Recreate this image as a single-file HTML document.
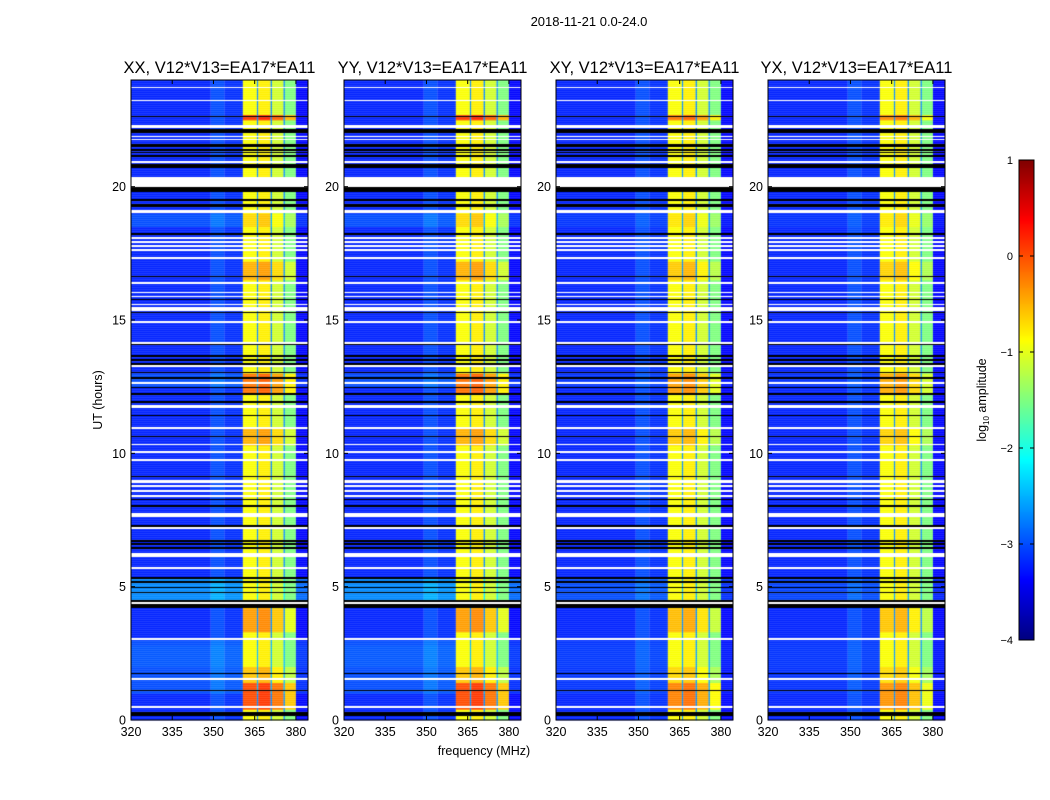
<!DOCTYPE html>
<html><head><meta charset="utf-8">
<style>
body{margin:0;background:#fff;width:1050px;height:800px;overflow:hidden;font-family:"Liberation Sans",sans-serif;}
#wrap{position:relative;width:1050px;height:800px;}
canvas{position:absolute;left:0;top:0;}
</style></head>
<body>
<div id="wrap">
<canvas id="cv" width="1050" height="800"></canvas>
<svg id="sv" width="1050" height="800" style="position:absolute;left:0;top:0"></svg>
</div>
<script>
// ---- data ----
const panelTitles = ["XX, V12*V13=EA17*EA11","YY, V12*V13=EA17*EA11","XY, V12*V13=EA17*EA11","YX, V12*V13=EA17*EA11"];
const yTicks = [0,5,10,15,20];
const xTicks = [320,335,350,365,380];
const cbTicks = [1,0,-1,-2,-3,-4];
// frequency segments [start MHz, end MHz, log10 amplitude]
const freqSegStart = [320,349,354,360.7,365.8,366.3,370.8,371.3,375.5,376,380];
const freqSegEnd   = [349,354,360.7,365.8,366.3,370.8,371.3,375.5,376,380,384.4];
const freqSegLevel = [-3.2,-3.0,-3.15,-0.9,-2.7,-0.8,-2.7,-1.1,-2.7,-1.5,-3.35];
const bandStart = 360.7, bandEnd = 380;
// flagged rows (hours)
const whiteStart = [0.45,1.5,3.0,4.35,5.65,6.1,7.15,7.6,8.35,8.55,8.75,8.9,9.7,10.0,10.3,10.9,11.7,12.6,13.25,14.1,14.9,15.35,15.55,15.85,16.0,16.35,17.3,17.6,17.75,17.9,18.05,19.03,20.0,20.9,21.75,21.85,22.2,23.2,23.7];
const whiteEnd   = [0.52,1.57,3.08,4.43,5.72,6.25,7.22,7.75,8.42,8.62,8.82,9.0,9.77,10.07,10.36,10.97,11.8,12.66,13.31,14.16,14.96,15.5,15.61,15.91,16.06,16.41,17.36,17.66,17.81,17.96,18.11,19.12,20.35,20.96,21.8,21.9,22.32,23.25,23.75];
const blackStart = [0.15,1.08,1.72,4.2,4.75,4.95,5.15,5.3,6.4,6.55,6.68,7.15,7.25,8.0,8.25,9.1,10.6,11.4,11.9,12.2,12.45,12.8,13.0,13.3,13.45,13.6,14.05,15.25,15.75,16.6,18.2,19.25,19.45,19.8,20.7,21.1,21.25,21.35,21.5,22.0,22.6];
const blackEnd   = [0.3,1.13,1.77,4.5,4.8,5.0,5.2,5.35,6.48,6.62,6.75,7.21,7.3,8.05,8.3,9.15,10.65,11.45,11.95,12.25,12.5,12.85,13.05,13.4,13.55,13.7,14.1,15.3,15.8,16.65,18.25,19.35,19.55,19.98,20.85,21.18,21.3,21.42,21.6,22.15,22.65];
// band boost intervals
const hotStart = [0.4,1.4,3.3,10.3,12.2,16.5,18.5,22.5,12.9];
const hotEnd   = [1.4,2.0,4.2,11.0,13.0,17.2,19.0,22.7,13.0];
const hotBoost = [0.9,0.3,0.5,0.4,0.7,0.4,0.2,1.0,0.3];
const panelHotScale = [1,1,0.7,0.6];
// background boost intervals (off-band)
const bgStart = [4.5,1.0,2.0,18.5,12.5];
const bgEnd   = [5.3,3.0,2.8,19.0,13.0];
const bgBoost = [0.5,0.2,0.25,0.2,0.2];
const panelBgScale = [1,1,0.4,0.3];

// ---- axes functions ----
const panelLeft = [131,344,556,768], panelW = 177, plotTop = 80, plotBottom = 720;
const fMin = 320, fMax = 384.4, hMax = 24;
function xs(p,f){return panelLeft[p] + (f-fMin)/(fMax-fMin)*panelW;}
function ys(h){return plotBottom - h/hMax*(plotBottom-plotTop);}
function jet(v){
  let t=(v+4)/5; t=Math.max(0,Math.min(1,t));
  const c=x=>Math.round(255*Math.max(0,Math.min(1,x)));
  return `rgb(${c(1.5-Math.abs(4*t-3))},${c(1.5-Math.abs(4*t-2))},${c(1.5-Math.abs(4*t-1))})`;
}
function inAny(h,s,e){for(let i=0;i<s.length;i++){if(h>=s[i]&&h<e[i])return i;}return -1;}

const ctx=document.getElementById('cv').getContext('2d');
const NS="http://www.w3.org/2000/svg", sv=document.getElementById('sv');
function el(tag,attrs,parent){const e=document.createElementNS(NS,tag);for(const k in attrs)e.setAttribute(k,attrs[k]);(parent||sv).appendChild(e);return e;}

const dh=0.025;
for(let p=0;p<4;p++){
  // normal rows first
  for(let r=0;r<hMax/dh;r++){
    const h0=r*dh, hm=h0+dh/2;
    const y1=ys(h0+dh), y0=ys(h0);
    let hb=0; for(let i=0;i<hotStart.length;i++) if(hm>=hotStart[i]&&hm<hotEnd[i]) hb=Math.max(hb,hotBoost[i]*panelHotScale[p]);
    let bb=0; for(let i=0;i<bgStart.length;i++) if(hm>=bgStart[i]&&hm<bgEnd[i]) bb=Math.max(bb,bgBoost[i]*panelBgScale[p]);
    for(let s=0;s<freqSegStart.length;s++){
      const inBand = freqSegStart[s]>=bandStart && freqSegEnd[s]<=bandEnd && freqSegLevel[s]>-2;
      const v = freqSegLevel[s] + (inBand?hb:bb);
      ctx.fillStyle=jet(v);
      const xa=xs(p,freqSegStart[s]), xb=xs(p,freqSegEnd[s]);
      ctx.fillRect(xa,y1,xb-xa,y0-y1+0.3);
    }
  }
  // flagged rows, pixel-snapped
  for(let i=0;i<blackStart.length;i++){
    const ya=Math.round(ys(blackEnd[i])), yb=Math.max(ya+1,Math.round(ys(blackStart[i])));
    ctx.fillStyle='#000';ctx.fillRect(panelLeft[p],ya,panelW,yb-ya);
  }
  for(let i=0;i<whiteStart.length;i++){
    const ya=Math.round(ys(whiteEnd[i])), yb=Math.max(ya+1,Math.round(ys(whiteStart[i])));
    ctx.fillStyle='#fff';ctx.fillRect(panelLeft[p],ya,panelW,yb-ya);
  }
}
// colorbar
const cbX=1019,cbW=15,cbTop=160,cbBot=640;
for(let y=cbTop;y<cbBot;y++){const v=1-(y-cbTop+0.5)/(cbBot-cbTop)*5;ctx.fillStyle=jet(v);ctx.fillRect(cbX,y,cbW,1);}

// axes overlay
el('text',{x:589,y:26,'font-size':13,'text-anchor':'middle',}).textContent='2018-11-21 0.0-24.0';
for(let p=0;p<4;p++){
  const g=el('g',{});
  
  
  const L=panelLeft[p];
  el('rect',{x:L,y:plotTop,width:panelW,height:plotBottom-plotTop,fill:'none',stroke:'#000','stroke-width':1,},g);
  el('text',{x:L+panelW/2,y:73,'font-size':16.5,'text-anchor':'middle',},g).textContent=panelTitles[p];
  yTicks.forEach(t=>{
    const y=ys(t);
    el('line',{x1:L,x2:L+4,y1:y,y2:y,stroke:'#000'},g);
    el('line',{x1:L+panelW,x2:L+panelW-4,y1:y,y2:y,stroke:'#000'},g);
    el('text',{x:L-5,y:y+4.5,'font-size':12.5,'text-anchor':'end',},g).textContent=t;
  });
  xTicks.forEach(t=>{
    const x=xs(p,t);
    el('line',{x1:x,x2:x,y1:plotBottom,y2:plotBottom-4,stroke:'#000'},g);
    el('line',{x1:x,x2:x,y1:plotTop,y2:plotTop+4,stroke:'#000'},g);
    el('text',{x:x,y:736,'font-size':12.5,'text-anchor':'middle',},g).textContent=t;
  });
}
el('text',{x:0,y:0,'font-size':12.5,'text-anchor':'middle',transform:'translate(102,400) rotate(-90)',}).textContent='UT (hours)';
el('text',{x:484,y:755,'font-size':12.5,'text-anchor':'middle',}).textContent='frequency (MHz)';
el('rect',{x:cbX,y:cbTop,width:cbW,height:cbBot-cbTop,fill:'none',stroke:'#000',});
cbTicks.forEach(t=>{
  const y=cbTop+(1-t)/5*(cbBot-cbTop);
  el('line',{x1:cbX,x2:cbX+4,y1:y,y2:y,stroke:'#000'});
  el('line',{x1:cbX+cbW,x2:cbX+cbW-4,y1:y,y2:y,stroke:'#000'});
  el('text',{x:1013,y:y+4,'font-size':11,'text-anchor':'end',}).textContent=(t<0?'\u2212'+(-t):t);
});
const lab=el('text',{x:0,y:0,'font-size':12.5,'text-anchor':'middle',transform:'translate(986,400) rotate(-90)',});
lab.innerHTML='log<tspan font-size="8" dy="3">10</tspan><tspan dy="-3"> amplitude</tspan>';
</script>
</body></html>
